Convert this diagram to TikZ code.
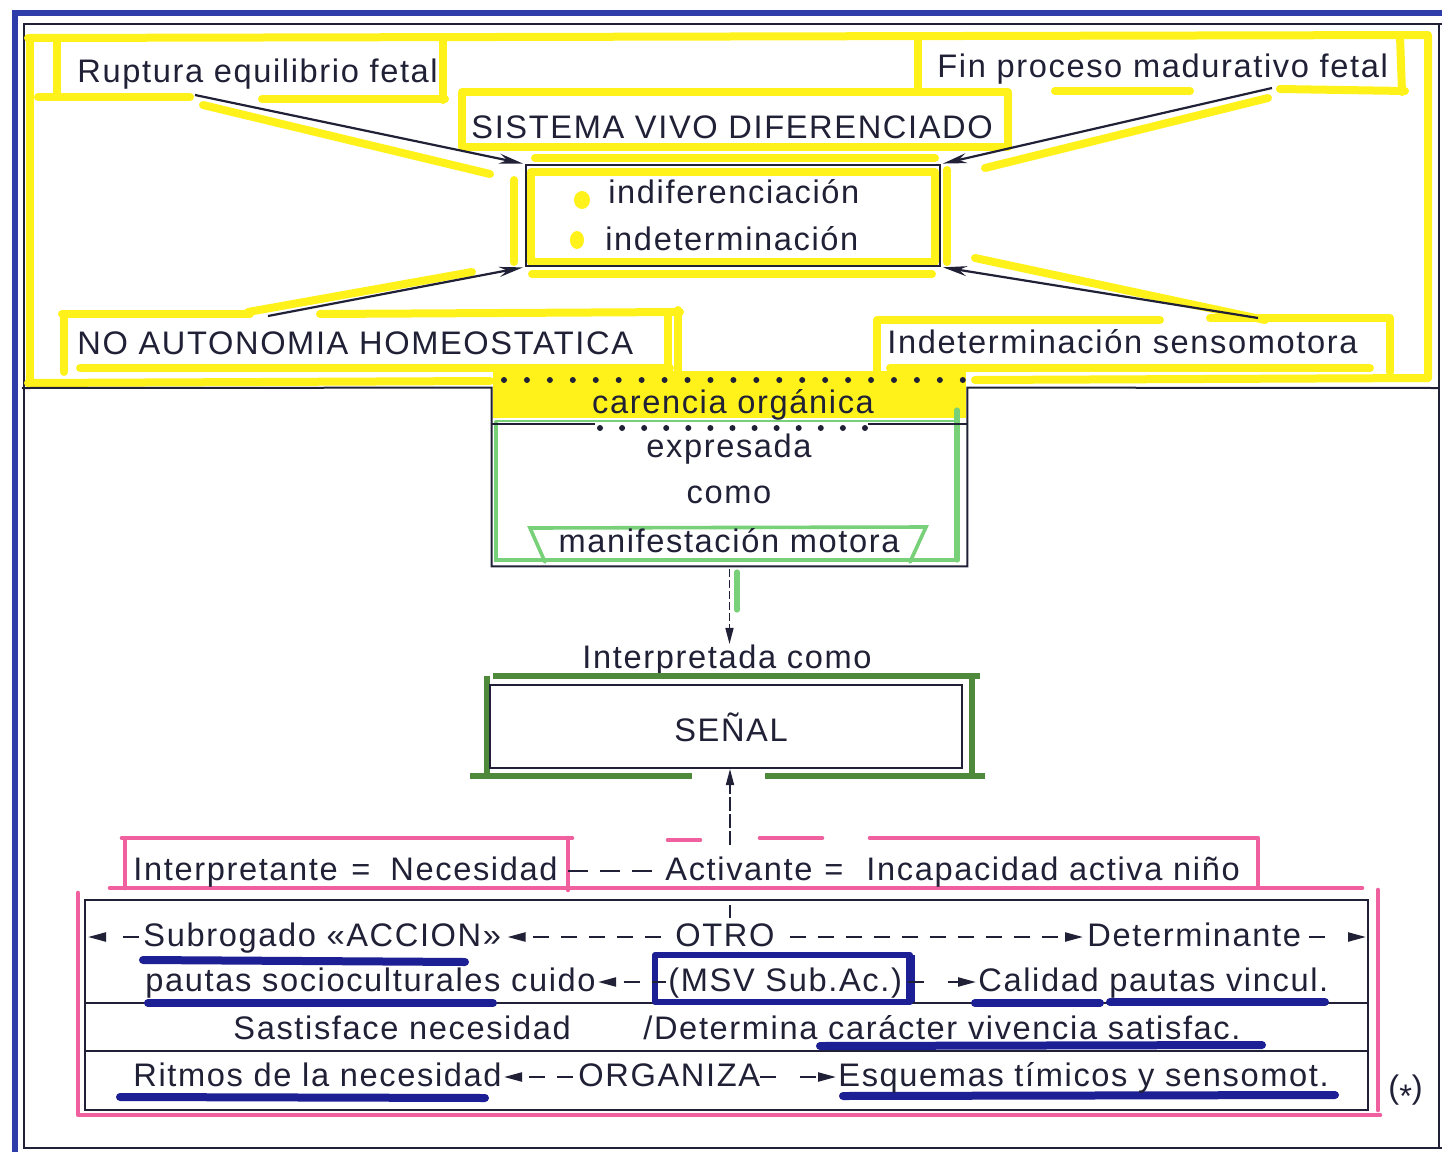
\documentclass[tikz,border=0pt]{standalone}
\usepackage{fontspec}
\setmainfont{Liberation Sans}[LetterSpace=5]
\usetikzlibrary{arrows.meta,calc}
\definecolor{hly}{HTML}{FFF21A}
\definecolor{hlp}{HTML}{F0609F}
\definecolor{hlb}{HTML}{1D1F95}
\definecolor{hlg}{HTML}{78D078}
\definecolor{hldg}{HTML}{4F8A3C}
\definecolor{ink}{HTML}{202036}
\definecolor{fblue}{HTML}{2F3DAA}
\newcommand\myfs{\fontsize{16.3}{20}\selectfont}
\begin{document}
\begin{tikzpicture}[x=0.5pt,y=-0.5pt,
  txt/.style={font=\myfs, text=ink, inner sep=0pt},
  yl/.style={draw=hly, line width=4pt, line cap=round, line join=round},
  pk/.style={draw=hlp, line width=2.3pt, line cap=round, line join=round},
  bl/.style={draw=hlb, line width=4pt, line cap=round},
  gr/.style={draw=hlg, line width=1.8pt, line cap=round},
  dg/.style={draw=hldg, line width=2.6pt},
  ln/.style={draw=ink, line width=1pt},
  dots/.style={draw=ink, line width=3pt, line cap=round},
  bigarrow/.style={draw=ink, line width=1.1pt, -{Stealth[length=12pt,width=5pt]}, shorten >=1pt},
  rowarr/.style={draw=ink, line width=1.1pt, {Triangle[length=9pt,width=4.5pt]}-, dash pattern=on 8pt off 6pt, dash phase=10pt},
  rowarrend/.style={draw=ink, line width=1.1pt, -{Triangle[length=9pt,width=4.5pt]}, dash pattern=on 8pt off 12pt},
  rowdash/.style={draw=ink, line width=1.1pt, dash pattern=on 10pt off 6pt},
]
\useasboundingbox (0,0) rectangle (1442,1152);
\fill[white] (0,0) rectangle (1442,1152);

% ---------- frame ----------
\draw[fblue, line width=3pt] (1442,13) -- (15,13) -- (15,1152);
\draw[ink, line width=0.8pt] (1442,24) -- (24,24) -- (24,1148) -- (1442,1148);
\draw[ink, line width=0.8pt] (1439,24) -- (1439,1148);

% ---------- yellow highlighting (top section) ----------
\draw[yl] (28,38) -- (1428,35) -- (1428,378);
\draw[yl] (30,38) -- (30,385);
\draw[yl] (28,383) -- (490,381);
\draw[yl] (975,380) -- (1428,378);
% Ruptura box
\draw[yl] (57,42) -- (57,96);
\draw[yl] (443,38) -- (443,100);
\draw[yl] (38,97) -- (190,97);
\draw[yl] (262,99) -- (445,99);
% Fin box
\draw[yl] (918,38) -- (918,88);
\draw[yl] (1400,36) -- (1402,92);
\draw[yl] (1055,91) -- (1190,91);
\draw[yl] (1280,89) -- (1405,91);
% Sistema box
\draw[yl] (462,92) rectangle (1008,147);
% central box highlights
\draw[yl] (531,172) rectangle (935,262);
\draw[yl] (535,158) -- (935,158);
\draw[yl] (514,180) -- (514,262);
\draw[yl] (947,170) -- (947,262);
\draw[yl] (532,274) -- (932,274);
% arrow companions
\draw[yl] (203,105) -- (490,174);
\draw[yl] (248,312) -- (472,272);
\draw[yl] (985,168) -- (1268,98);
\draw[yl] (975,258) -- (1265,320);
% NO AUTONOMIA box
\draw[yl] (64,318) -- (64,372);
\draw[yl] (62,314) -- (250,314);
\draw[yl] (320,314) -- (680,312);
\draw[yl] (668,312) -- (668,372);
\draw[yl] (678,310) -- (678,370);
\draw[yl] (80,368) -- (670,368);
% Indeterminacion box
\draw[yl] (877,320) -- (877,380);
\draw[yl] (878,320) -- (1160,320);
\draw[yl] (1210,318) -- (1390,318) -- (1390,372);
\draw[yl] (890,368) -- (1370,368);
% yellow dots
\fill[hly] (582,200) ellipse [x radius=4pt, y radius=4.5pt];
\fill[hly] (577,240) ellipse [x radius=3.5pt, y radius=4.5pt];

% ---------- top texts ----------
\node[txt, anchor=base west] (rup) at (77,82) {Ruptura equilibrio fetal};
\node[txt, anchor=base west] (fin) at (937,77) {Fin proceso madurativo fetal};
\node[txt, anchor=base west] (sis) at (471,138) {SISTEMA VIVO DIFERENCIADO};
\node[draw=ink, line width=1pt, minimum width=207pt, minimum height=50.5pt, inner sep=0pt] (cbox) at (733,215.5) {};
\node[txt, anchor=base west] (ind1) at (608,203) {indiferenciación};
\node[txt, anchor=base west] (ind2) at (605,250) {indeterminación};
\node[txt, anchor=base west] (noa) at (77,354) {NO AUTONOMIA HOMEOSTATICA};
\node[txt, anchor=base west] (ism) at (887,353) {Indeterminación sensomotora};

\coordinate (a1) at (195,95);
\coordinate (a2) at (1272,88);
\coordinate (a3) at (268,316);
\coordinate (a4) at (1258,318);
\draw[bigarrow] (a1) -- (cbox.north west);
\draw[bigarrow] (a2) -- (cbox.north east);
\draw[bigarrow] (a3) -- (cbox.south west);
\draw[bigarrow] (a4) -- (cbox.south east);

% ---------- carencia box ----------
\node[minimum width=237.5pt, minimum height=93pt, inner sep=0pt] (car) at (729.5,473) {};
\fill[hly] (493,371) rectangle (966,418);
\draw[gr] (496,422) -- (496,560) -- (958,560);
\draw[gr, line width=2.6pt] (957,410) -- (957,560);
\draw[gr, line width=1pt] (496,421) -- (958,421);
\draw[gr] (545,562) -- (530,528) -- (926,527) -- (910,562);
\draw[ln] (22,388) -- ($(car.north west)+(0,8)$) -- (car.south west) -- (car.south east) -- ($(car.north east)+(0,8)$) -- (1439,388);
\draw[dots, dash pattern=on 0pt off 11.47pt] (504,380) -- (963,380);
\draw[ln] (492,424) -- (595,424);
\draw[ln] (868,424) -- (967,424);
\draw[dots, dash pattern=on 0pt off 11.04pt] (600,428) -- (865,428);
\node[txt, anchor=base] (carorg) at (733,413) {carencia orgánica};
\node[txt, anchor=base] (expr) at (729,457) {expresada};
\node[txt, anchor=base] (como) at (729,503) {como};
\node[txt, anchor=base] (manif) at (729,552) {manifestación motora};

% ---------- interpretada / senal ----------
\draw[gr, line width=2.6pt] (737,572) -- (737,610);
\node[txt, anchor=base] (interp) at (727,668) {Interpretada como};
\draw[ink, line width=0.8pt, dash pattern=on 4pt off 1.5pt, -{Triangle[length=8pt,width=4pt]}] ($(car.south)+(0,3)$) -- (car.south |- interp.north);
\draw[dg] (493,676) -- (980,676);
\draw[dg] (487,676) -- (487,776);
\draw[dg] (972,676) -- (972,776);
\draw[dg] (470,776) -- (692,776);
\draw[dg] (765,776) -- (985,776);
\node[draw=ink, line width=1pt, minimum width=236pt, minimum height=41.5pt, inner sep=0pt] (senal) at (726,726.5) {};
\node[txt, anchor=base] (senaltxt) at (731,741) {SEÑAL};
\coordinate (up1) at (730,845);
\draw[ink, line width=0.8pt, dash pattern=on 7pt off 1.5pt, -{Triangle[length=8pt,width=4pt]}] (up1) -- (up1 |- senal.south);

% ---------- pink highlights ----------
\draw[pk] (122,838) -- (572,838);
\draw[pk] (125,840) -- (125,888);
\draw[pk] (568,838) -- (568,890);
\draw[pk] (668,840) -- (700,840);
\draw[pk] (760,838) -- (822,838);
\draw[pk] (870,838) -- (1258,838) -- (1258,885);
\draw[pk] (110,888) -- (1362,888);
\draw[pk] (78,893) -- (78,1115) -- (1380,1115);
\draw[pk] (1378,890) -- (1378,1110);

% ---------- interpretante row ----------
\node[txt, anchor=base west] (interpte) at (133,880) {Interpretante};
\node[txt, anchor=base] (eq1) at (361,880) {=};
\node[txt, anchor=base west] (nec) at (390,880) {Necesidad};
\node[txt, anchor=base west] (act) at (665,880) {Activante};
\node[txt, anchor=base] (eq2) at (834,880) {=};
\node[txt, anchor=base west] (incap) at (866,880) {Incapacidad activa niño};
\draw[rowdash] ($(nec.base east)+(10,-9)$) -- ($(act.base west)+(-6,-9)$);

% ---------- table ----------
\node[draw=ink, line width=1pt, minimum width=641.5pt, minimum height=105pt, inner sep=0pt] (tab) at (726.5,1005) {};
\draw[ln] ($(tab.north west)+(0,104)$) -- ($(tab.north east)+(0,104)$);
\draw[ln] ($(tab.north west)+(0,152)$) -- ($(tab.north east)+(0,152)$);
\draw[ink, line width=0.8pt] (730,905) -- (730,918);

% blue highlights
\draw[bl] (143,960) -- (465,962);
\draw[bl] (148,1003) -- (493,1003);
\draw[bl] (975,1003) -- (1100,1003);
\draw[bl] (1110,1002) -- (1325,1002);
\draw[bl] (820,1046) -- (1262,1045);
\draw[bl] (120,1097) -- (485,1098);
\draw[bl] (843,1096) -- (1335,1095);
\draw[hlb, line width=3pt, line join=round] (655,1002) -- (655,955) -- (910,955) -- (910,1002) -- cycle;
\draw[hlb, line width=4.5pt] (910,955) -- (910,1002);

% row 1
\node[txt, anchor=base west] (sub) at (143,946) {Subrogado «ACCION»};
\node[txt, anchor=base west] (otro) at (675,946) {OTRO};
\node[txt, anchor=base west] (det) at (1087,946) {Determinante};
\coordinate (l1) at (88,937);
\coordinate (r1) at (1366,937);
\draw[rowarrend] ($(sub.base west)+(-4,-9)$) -- (l1);
\draw[rowarr] ($(sub.base east)+(6,-9)$) -- ($(otro.base west)+(-4,-9)$);
\draw[rowarr] ($(det.base west)+(-4,-9)$) -- ($(otro.base east)+(12,-9)$);
\draw[rowarrend] ($(det.base east)+(8,-9)$) -- (r1);

% row 2
\node[txt, anchor=base west] (pau) at (145,991) {pautas socioculturales cuido};
\node[txt, anchor=base west] (msv) at (668,991) {(MSV Sub.Ac.)};
\node[txt, anchor=base west] (cal) at (978,991) {Calidad pautas vincul.};
\draw[rowarr] ($(pau.base east)+(2,-9)$) -- ($(msv.base west)+(-2,-9)$);
\draw[rowarrend] ($(msv.base east)+(6,-9)$) -- ($(cal.base west)+(-2,-9)$);

% row 3
\node[txt, anchor=base west] (sat) at (233,1039) {Sastisface necesidad};
\node[txt, anchor=base west] (detm) at (643,1039) {/Determina carácter vivencia satisfac.};

% row 4
\node[txt, anchor=base west] (rit) at (133,1086) {Ritmos de la necesidad};
\node[txt, anchor=base west] (org) at (578,1086) {ORGANIZA};
\node[txt, anchor=base west] (esq) at (838,1086) {Esquemas tímicos y sensomot.};
\draw[rowarr] ($(rit.base east)+(2,-9)$) -- ($(org.base west)+(0,-9)$);
\draw[rowarrend] ($(org.base east)+(0,-9)$) -- ($(esq.base west)+(-2,-9)$);

\node[txt, anchor=base west] (note) at (1388,1098) {(\raisebox{-0.3em}{*})};
\end{tikzpicture}
\end{document}
